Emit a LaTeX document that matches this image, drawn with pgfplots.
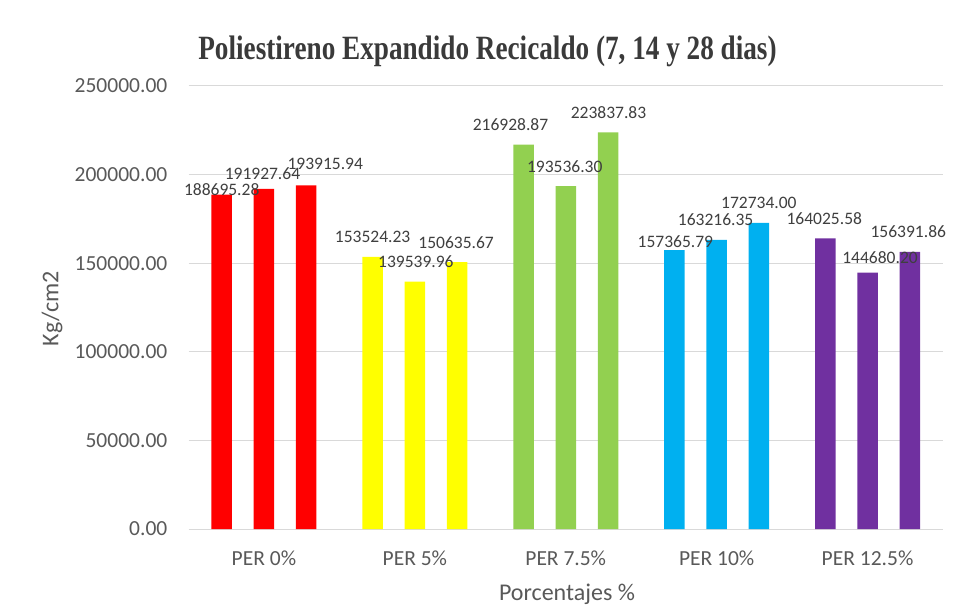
\documentclass[border=0pt]{standalone}
\usepackage{fontspec}
\setmainfont{Carlito}
\newfontfamily\titlefont{Liberation Serif}
\usepackage{pgfplots}
\usepackage{pgfplotstable}
\pgfplotsset{compat=1.18}
\definecolor{cred}{HTML}{FF0000}
\definecolor{cyellow}{HTML}{FFFF00}
\definecolor{cgreen}{HTML}{92D050}
\definecolor{cblue}{HTML}{00B0F0}
\definecolor{cpurple}{HTML}{7030A0}
\definecolor{tickgray}{HTML}{595959}
\definecolor{lblgray}{HTML}{3F3F3F}
\definecolor{titlegray}{HTML}{3A3A3A}
\definecolor{gridgray}{HTML}{D9D9D9}

\pgfplotstableread{
x y label dx dy
-0.28 188695.28 188695.28 0 5.5
0 191927.64 191927.64 -1.5 15
0.28 193915.94 193915.94 19 21
}\tred
\pgfplotstableread{
x y label dx dy
0.72 153524.23 153524.23 0 20
1 139539.96 139539.96 1 20
1.28 150635.67 150635.67 -1 19.3
}\tyellow
\pgfplotstableread{
x y label dx dy
1.72 216928.87 216928.87 -13 19.6
2 193536.30 193536.30 -1 19
2.28 223837.83 223837.83 0.5 19.7
}\tgreen
\pgfplotstableread{
x y label dx dy
2.72 157365.79 157365.79 1 8
3 163216.35 163216.35 -1 19.8
3.28 172734.00 172734.00 0 20
}\tblue
\pgfplotstableread{
x y label dx dy
3.72 164025.58 164025.58 -1 19.7
4 144680.20 144680.20 12.5 14.7
4.28 156391.86 156391.86 -1.5 20
}\tpurple

\begin{document}
\begin{tikzpicture}
\begin{axis}[
  at={(188.5pt,79pt)}, anchor=south west,
  width=754.5pt, height=443pt, scale only axis,
  xmin=-0.5, xmax=4.5, ymin=0, ymax=250000,
  xtick={0,1,2,3,4},
  xticklabels={PER 0\%, PER 5\%, PER 7.5\%, PER 10\%, PER 12.5\%},
  ytick={0,50000,100000,150000,200000,250000},
  yticklabels={0.00,50000.00,100000.00,150000.00,200000.00,250000.00},
  scaled y ticks=false,
  /pgf/number format/assume math mode=true,
  ymajorgrids, grid style={draw=gridgray, line width=1pt},
  axis line style={draw=none}, major tick length=0pt,
  ticklabel style={font=\fontsize{21.5}{24}\selectfont, text=tickgray},
  yticklabel style={anchor=east, inner sep=0pt, xshift=-21pt},
  xticklabel style={anchor=north, inner sep=0pt, yshift=-21.7pt},
  ybar, bar width=20.5pt, bar shift=0pt,
  clip=false,
  lbl/.style={draw=none, fill=none,
    nodes near coords, point meta=explicit symbolic,
    visualization depends on={\thisrow{dx} \as \dx},
    visualization depends on={\thisrow{dy} \as \dy},
    nodes near coords style={font=\fontsize{17.5}{20}\selectfont, text=lblgray, inner sep=0pt, anchor=center, xshift=\dx pt, yshift=\dy pt}},
]
\addplot[fill=cred, draw=none] table[x=x,y=y]{\tred};
\addplot[fill=cyellow, draw=none] table[x=x,y=y]{\tyellow};
\addplot[fill=cgreen, draw=none] table[x=x,y=y]{\tgreen};
\addplot[fill=cblue, draw=none] table[x=x,y=y]{\tblue};
\addplot[fill=cpurple, draw=none] table[x=x,y=y]{\tpurple};
\addplot[lbl] table[x=x,y=y,meta=label]{\tred};
\addplot[lbl] table[x=x,y=y,meta=label]{\tyellow};
\addplot[lbl] table[x=x,y=y,meta=label]{\tgreen};
\addplot[lbl] table[x=x,y=y,meta=label]{\tblue};
\addplot[lbl] table[x=x,y=y,meta=label]{\tpurple};
\end{axis}
\node[anchor=base, text=titlegray, inner sep=0pt] at (487.5pt,548.75pt)
  {\scalebox{0.8}[1]{\titlefont\bfseries\fontsize{34}{40}\selectfont Poliestireno Expandido Recicaldo (7, 14 y 28 dias)}};
\node[anchor=base, text=tickgray, inner sep=0pt, font=\fontsize{24}{28}\selectfont] at (567pt,7.5pt) {Porcentajes \%};
\node[rotate=90, text=tickgray, inner sep=0pt, font=\fontsize{24}{28}\selectfont] at (52pt,299pt) {Kg/cm2};
\pgfresetboundingbox
\useasboundingbox (0,0) rectangle (963pt,608pt);
\end{tikzpicture}
\end{document}
